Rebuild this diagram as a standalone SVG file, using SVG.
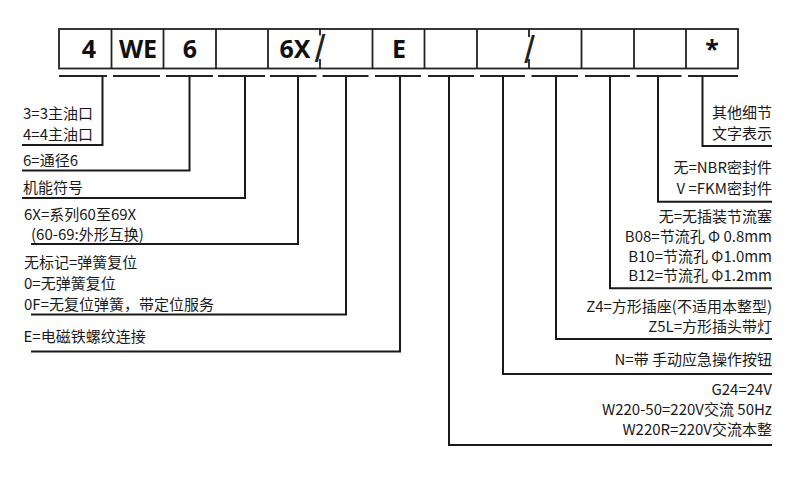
<svg xmlns="http://www.w3.org/2000/svg" width="792" height="498" viewBox="0 0 792 498">
<style>
.box{fill:#fff;stroke:#222;stroke-width:1.8}
.div{stroke:#222;stroke-width:1.8;fill:none}
.code{font-family:"Noto Sans","Noto Sans CJK SC",sans-serif;font-size:25px;font-weight:bold;fill:#111;text-anchor:middle}
.slash{font-family:"Liberation Sans",sans-serif;font-size:38px;fill:#222;text-anchor:middle}
.lbl{font-family:"Noto Sans CJK SC","Noto Sans",sans-serif;font-size:15px;fill:#1a1a1a}
.r{text-anchor:end}
.dash{stroke:#222;stroke-width:2}
.con{stroke:#1a1a1a;stroke-width:2;fill:none}
</style>
<rect width="792" height="498" fill="#fff"/>
<g id="code-boxes">
<rect class="box" x="59" y="29" width="679" height="39.5"/>
<g id="box-1"><text class="code" x="89" y="58">4</text></g>
<g id="box-2"><line class="div" x1="111.5" y1="29" x2="111.5" y2="68.5"/><text class="code" x="138" y="58">WE</text></g>
<g id="box-3"><line class="div" x1="163.5" y1="29" x2="163.5" y2="68.5"/><text class="code" x="190" y="58">6</text></g>
<g id="box-4"><line class="div" x1="216" y1="29" x2="216" y2="68.5"/></g>
<g id="box-5"><line class="div" x1="268" y1="29" x2="268" y2="68.5"/><text class="code" x="295" y="58">6X</text></g>
<g id="box-6"><path class="div" d="M320 29V35.5M320 59V68.5"/><text class="slash" x="320" y="62">/</text></g>
<g id="box-7"><line class="div" x1="372.5" y1="29" x2="372.5" y2="68.5"/><text class="code" x="399" y="58">E</text></g>
<g id="box-8"><line class="div" x1="424.5" y1="29" x2="424.5" y2="68.5"/></g>
<g id="box-9"><line class="div" x1="477" y1="29" x2="477" y2="68.5"/></g>
<g id="box-10"><path class="div" d="M529 29V37M529 59V68.5"/><text class="slash" x="529.5" y="63">/</text></g>
<g id="box-11"><line class="div" x1="581.5" y1="29" x2="581.5" y2="68.5"/></g>
<g id="box-12"><line class="div" x1="634" y1="29" x2="634" y2="68.5"/></g>
<g id="box-13"><line class="div" x1="686" y1="29" x2="686" y2="68.5"/><text class="code" x="712" y="58">*</text></g>
</g>
<g id="connectors">
<path class="dash" d="M59 76H107M113 76H160M166 76H213M218 76H265M270 76H316.5M322.5 76H368.5M375 76H421M428 76H474M480 76H525M531.5 76H578M585 76H630M636.5 76H681.5M688 76H738"/>
<path class="con" d="M102.5 76V145H22"/>
<path class="con" d="M189.5 76V170.5H22"/>
<path class="con" d="M245 76V198H22"/>
<path class="con" d="M298 76V244H31"/>
<path class="con" d="M346 76V314.5H31"/>
<path class="con" d="M400 76V351.5H31"/>
<path class="con" d="M449 76V445H772"/>
<path class="con" d="M503 76V374H772"/>
<path class="con" d="M556 76V339H772"/>
<path class="con" d="M610 76V288.3H772"/>
<path class="con" d="M658 76V201.7H772"/>
<path class="con" d="M702.5 76V146H772"/>
</g>
<g id="label-ports"><text class="lbl" x="23" y="119">3=3主油口</text><text class="lbl" x="23" y="140">4=4主油口</text></g>
<g id="label-size"><text class="lbl" x="23" y="166">6=通径6</text></g>
<g id="label-symbol"><text class="lbl" x="23" y="192.5">机能符号</text></g>
<g id="label-series"><text class="lbl" x="24" y="219.5">6X=系列60至69X</text><text class="lbl" x="31" y="240">(60-69:外形互换)</text></g>
<g id="label-spring"><text class="lbl" x="24" y="268">无标记=弹簧复位</text><text class="lbl" x="24" y="289">0=无弹簧复位</text><text class="lbl" x="24" y="309.5">0F=无复位弹簧，带定位服务</text></g>
<g id="label-solenoid"><text class="lbl" x="23.5" y="342">E=电磁铁螺纹连接</text></g>
<g id="label-other"><text class="lbl r" x="772" y="117.5">其他细节</text><text class="lbl r" x="772" y="138.5">文字表示</text></g>
<g id="label-seal"><text class="lbl r" x="772" y="173">无=NBR密封件</text><text class="lbl r" x="772" y="194">V =FKM密封件</text></g>
<g id="label-throttle"><text class="lbl r" x="772" y="221.5">无=无插装节流塞</text><text class="lbl r" x="772" y="241.5">B08=节流孔 Φ 0.8mm</text><text class="lbl r" x="772" y="261.5">B10=节流孔 Φ1.0mm</text><text class="lbl r" x="772" y="281">B12=节流孔 Φ1.2mm</text></g>
<g id="label-plug"><text class="lbl r" x="772" y="312">Z4=方形插座(不适用本整型)</text><text class="lbl r" x="772" y="331.5">Z5L=方形插头带灯</text></g>
<g id="label-manual"><text class="lbl r" x="772" y="365">N=带 手动应急操作按钮</text></g>
<g id="label-voltage"><text class="lbl r" x="772" y="395">G24=24V</text><text class="lbl r" x="772" y="415">W220-50=220V交流 50Hz</text><text class="lbl r" x="772" y="435">W220R=220V交流本整</text></g>
</svg>
